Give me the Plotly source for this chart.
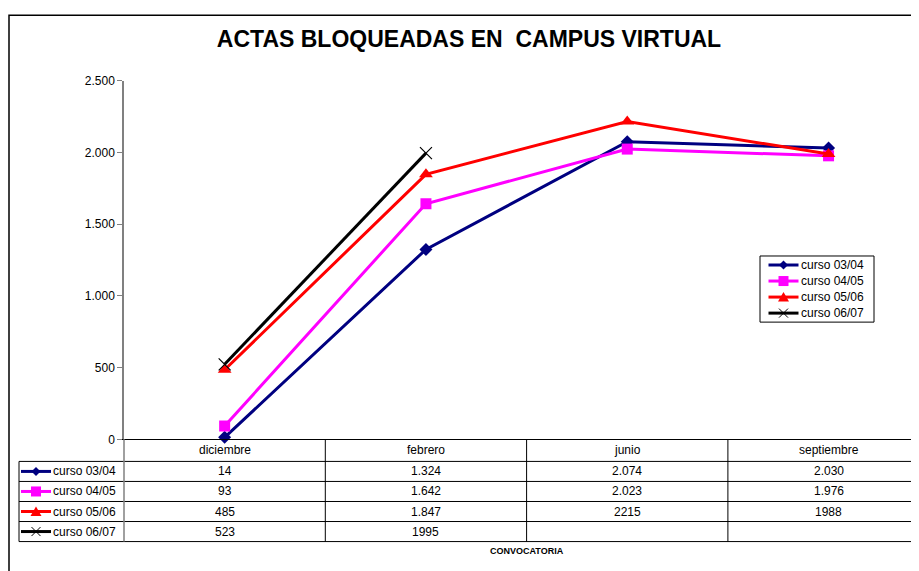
import plotly.graph_objects as go

# ---------------- data ----------------
categories = ["diciembre", "febrero", "junio", "septiembre"]
series_names = ["curso 03/04", "curso 04/05", "curso 05/06", "curso 06/07"]
curso_0304 = [14, 1324, 2074, 2030]
curso_0405 = [93, 1642, 2023, 1976]
curso_0506 = [485, 1847, 2215, 1988]
curso_0607 = [523, 1995, None, None]
# cell texts exactly as printed in the data table
text_0304 = ["14", "1.324", "2.074", "2.030"]
text_0405 = ["93", "1.642", "2.023", "1.976"]
text_0506 = ["485", "1.847", "2215", "1988"]
text_0607 = ["523", "1995", "", ""]
y_ticks = [0, 500, 1000, 1500, 2000, 2500]

values = [curso_0304, curso_0405, curso_0506, curso_0607]
texts = [text_0304, text_0405, text_0506, text_0607]
colors = ["#000080", "#FF00FF", "#FF0000", "#000000"]
symbols = ["diamond", "square", "triangle-up", "x-thin"]
msizes = [10, 11, 12, 12]

W, H = 919, 571
X_OFF = 8            # horizontal page offset of the figure
Y_OFF, Y_SC = 15.5, 0.9735   # observed vertical placement of the figure
FONT = "Liberation Sans, Arial, sans-serif"


def PX(x):
    """window pixel x -> paper fraction"""
    return (x - X_OFF) / W


def DY(y):
    """window pixel y -> figure pixel"""
    return (y - Y_OFF) / Y_SC


def PY(y):
    """window pixel y -> paper fraction"""
    return 1 - DY(y) / H


# plot area (window pixels)
X0, Y0, Y1 = 124, 81, 439
CAT_W = 201.3
PLOT_W = (W + X_OFF) - X0
XR = [-0.5, -0.5 + PLOT_W / CAT_W]


def cat_px(v):
    return X0 + (v - XR[0]) / (XR[1] - XR[0]) * PLOT_W


fig = go.Figure()
for name, vals, c, s, ms in zip(series_names, values, colors, symbols, msizes):
    marker = dict(symbol=s, size=ms, color=c)
    if s == "x-thin":
        marker["line"] = dict(color=c, width=1.2)
    fig.add_trace(go.Scatter(
        x=categories, y=vals, name=name, mode="lines+markers",
        line=dict(color=c, width=3), marker=marker, cliponaxis=False,
        connectgaps=False, showlegend=False,
    ))

shapes = []
annotations = []
txt_font = dict(family=FONT, size=12, color="#000000")

# outer chart border
shapes.append(dict(type="rect", xref="paper", yref="paper",
                   x0=PX(9), x1=PX(940), y0=-0.1, y1=0.9995,
                   line=dict(color="#000000", width=1.5)))


def key_symbol(mx, cy, s, c):
    """legend key: short thick line with the series marker"""
    out = [dict(type="line", xref="paper", yref="paper",
                x0=PX(mx - 15), x1=PX(mx + 15), y0=PY(cy), y1=PY(cy),
                line=dict(color=c, width=3))]
    if s == "diamond":
        d = 4.5
        path = (f"M{PX(mx-d)},{PY(cy)} L{PX(mx)},{PY(cy-d)} "
                f"L{PX(mx+d)},{PY(cy)} L{PX(mx)},{PY(cy+d)} Z")
        out.append(dict(type="path", xref="paper", yref="paper", path=path,
                        fillcolor=c, line=dict(color=c, width=0)))
    elif s == "square":
        d = 5
        out.append(dict(type="rect", xref="paper", yref="paper",
                        x0=PX(mx-d), x1=PX(mx+d), y0=PY(cy+d), y1=PY(cy-d),
                        fillcolor=c, line=dict(color=c, width=0)))
    elif s == "triangle-up":
        d = 5.5
        path = (f"M{PX(mx-d)},{PY(cy+d*0.8)} L{PX(mx)},{PY(cy-d*0.9)} "
                f"L{PX(mx+d)},{PY(cy+d*0.8)} Z")
        out.append(dict(type="path", xref="paper", yref="paper", path=path,
                        fillcolor=c, line=dict(color=c, width=0)))
    else:
        d = 4.5
        out.append(dict(type="line", xref="paper", yref="paper",
                        x0=PX(mx-d), x1=PX(mx+d), y0=PY(cy-d), y1=PY(cy+d),
                        line=dict(color=c, width=1)))
        out.append(dict(type="line", xref="paper", yref="paper",
                        x0=PX(mx-d), x1=PX(mx+d), y0=PY(cy+d), y1=PY(cy-d),
                        line=dict(color=c, width=1)))
    return out


# ---------------- legend (right) ----------------
shapes.append(dict(type="rect", xref="paper", yref="paper",
                   x0=PX(760), x1=PX(874), y0=PY(322), y1=PY(256),
                   fillcolor="white", line=dict(color="#000000", width=1)))
for r, (name, c, s) in enumerate(zip(series_names, colors, symbols)):
    cy = 265 + 16 * r
    shapes.extend(key_symbol(783.5, cy, s, c))
    annotations.append(dict(x=PX(799), y=PY(cy), xref="paper", yref="paper",
                            text=name, showarrow=False, font=txt_font,
                            xanchor="left", yanchor="middle"))

# ---------------- data table ----------------
row_lines = [461, 481, 501, 521, 541]
tbl_line = dict(color="#000000", width=1)
for ry in row_lines:
    shapes.append(dict(type="line", xref="paper", yref="paper",
                       x0=PX(19), x1=PX(940), y0=PY(ry), y1=PY(ry), line=tbl_line))
shapes.append(dict(type="line", xref="paper", yref="paper",
                   x0=PX(19), x1=PX(19), y0=PY(461), y1=PY(541), line=tbl_line))
# y axis extension into table
shapes.append(dict(type="line", xref="paper", yref="paper",
                   x0=PX(X0), x1=PX(X0), y0=PY(439), y1=PY(541),
                   line=dict(color="#808080", width=1.5)))
for i in range(1, len(categories) + 1):
    cx = cat_px(i - 0.5)
    shapes.append(dict(type="line", xref="paper", yref="paper",
                       x0=PX(cx), x1=PX(cx), y0=PY(439), y1=PY(541), line=tbl_line))

for cat in categories:
    annotations.append(dict(x=cat, y=PY(450), xref="x", yref="paper",
                            text=cat, showarrow=False, font=txt_font,
                            xanchor="center", yanchor="middle"))

for r, (name, txt, c, s) in enumerate(zip(series_names, texts, colors, symbols)):
    cy = 471 + 20 * r
    for cat, t in zip(categories, txt):
        if t:
            annotations.append(dict(x=cat, y=PY(cy), xref="x", yref="paper",
                                    text=t, showarrow=False, font=txt_font,
                                    xanchor="center", yanchor="middle"))
    shapes.extend(key_symbol(36, cy, s, c))
    annotations.append(dict(x=PX(51), y=PY(cy), xref="paper", yref="paper",
                            text=name, showarrow=False, font=txt_font,
                            xanchor="left", yanchor="middle"))

annotations.append(dict(x=PX(527), y=PY(550), xref="paper", yref="paper",
                        text="<b>CONVOCATORIA</b>", showarrow=False,
                        font=dict(family=FONT, size=9, color="#000000"),
                        xanchor="center", yanchor="middle"))

fig.update_layout(
    width=W, height=H,
    margin=dict(l=0, r=0, t=0, b=0),
    paper_bgcolor="white", plot_bgcolor="white",
    separators=",.",
    font=dict(family=FONT, size=12, color="#000000"),
    title=dict(text="<b>ACTAS BLOQUEADAS EN \u00a0CAMPUS VIRTUAL</b>",
               x=PX(469), y=1 - 31 / H, xref="paper", yref="container",
               xanchor="center", yanchor="middle",
               font=dict(family=FONT, size=23, color="#000000")),
    xaxis=dict(domain=[PX(X0), 1], range=XR, type="category",
               showticklabels=False, ticks="", showgrid=False, zeroline=False,
               showline=True, linecolor="#000000", linewidth=1),
    yaxis=dict(domain=[PY(Y1), PY(Y0)], range=[0, 2500],
               tickvals=y_ticks, tickformat=",d", ticks="outside", ticklen=5,
               tickcolor="#808080", tickwidth=1, showgrid=False, zeroline=False,
               showline=True, linecolor="#808080", linewidth=1.5,
               tickfont=dict(family=FONT, size=12, color="#000000")),
    shapes=shapes,
    annotations=annotations,
    showlegend=False,
)

fig.write_html("out.html")
